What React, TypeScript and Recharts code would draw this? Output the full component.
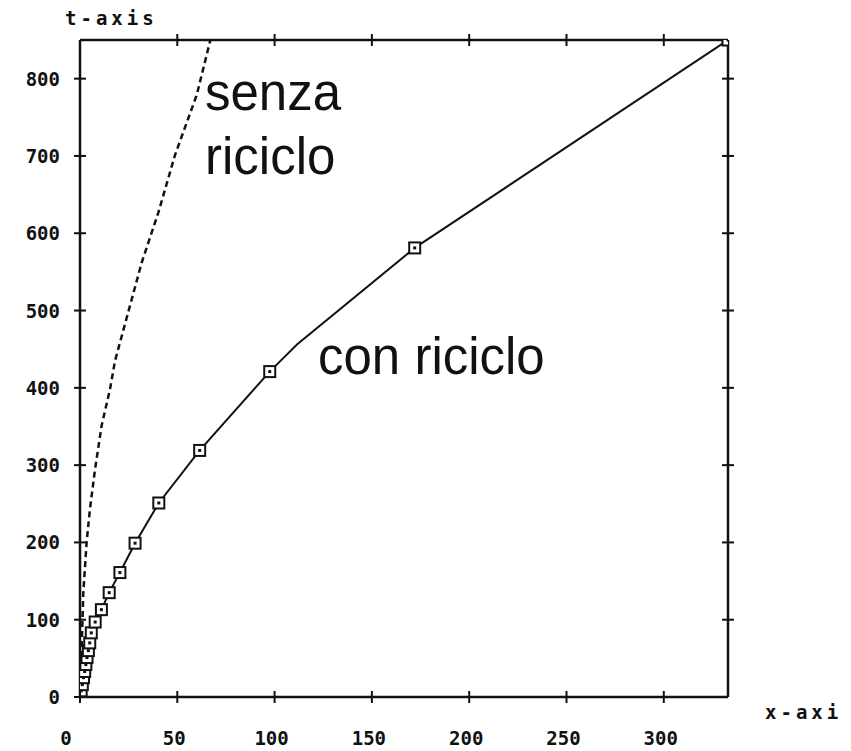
import { LineChart, Line, XAxis, YAxis } from 'recharts'

// con riciclo (solid line, square markers)
const conX = [0, 0.6, 1.2, 1.8, 2.4, 3.0, 3.6, 4.3, 5.0, 5.8, 7.8, 11.0, 15.0, 20.5, 28.3, 40.5, 61.5, 97.5, 111.5, 172.0, 333.0]
const conT = [0, 8, 16, 25, 33, 42, 51, 60, 70, 83, 97, 113, 135, 161, 199, 251, 319, 421, 456, 581, 850]
const conMarked = [1, 1, 1, 1, 1, 1, 1, 1, 1, 1, 1, 1, 1, 1, 1, 1, 1, 1, 0, 1, 1]

// senza riciclo (dashed line)
const senzaX = [0, 0.8, 1.7, 3.4, 5.1, 7.7, 11.1, 15.4, 18.0, 24.8, 31.7, 40.3, 48.8, 60.0, 67.0]
const senzaT = [0, 60, 135, 200, 243, 294, 351, 398, 435, 498, 562, 627, 701, 779, 850]

const xTicks = [0, 50, 100, 150, 200, 250, 300]
const tTicks = [0, 100, 200, 300, 400, 500, 600, 700, 800]
const xMax = 333
const tMax = 850

const conData = conX.map((x, i) => ({ x, t: conT[i], mark: conMarked[i] }))
const senzaData = senzaX.map((x, i) => ({ x, t: senzaT[i] }))

const INK = '#111'
const tickFont = { fontFamily: '"DejaVu Sans Mono", monospace', fontWeight: 700, fontSize: 19, fill: INK }

const BottomTick = (props: any) => {
  const { x, y, payload } = props
  const dx = payload.value === 0 ? -14 : -3
  return (
    <g>
      <line x1={x} x2={x} y1={y - 6} y2={y + 6} stroke={INK} strokeWidth={2} />
      <text x={x + dx} y={y + 41} textAnchor="middle" dominantBaseline="central" {...tickFont}>
        {payload.value}
      </text>
    </g>
  )
}

const LeftTick = (props: any) => {
  const { x, y, payload } = props
  return (
    <g>
      <line x1={x - 6} x2={x + 6} y1={y} y2={y} stroke={INK} strokeWidth={2} />
      <text x={x - 20} y={y} textAnchor="end" dominantBaseline="central" {...tickFont}>
        {payload.value}
      </text>
    </g>
  )
}

const TopTick = (props: any) => {
  const { x, y } = props
  return <line x1={x} x2={x} y1={y - 6} y2={y + 6} stroke={INK} strokeWidth={2} />
}

const RightTick = (props: any) => {
  const { x, y } = props
  return <line x1={x - 6} x2={x + 6} y1={y} y2={y} stroke={INK} strokeWidth={2} />
}

const SquareDot = (props: any) => {
  const { cx, cy, payload, index } = props
  if (!payload.mark) return <g key={`d-${index}`} />
  return (
    <g key={`d-${index}`}>
      <rect x={cx - 5.5} y={cy - 5.5} width={11} height={11} fill="#fff" stroke={INK} strokeWidth={2} />
      <rect x={cx - 1.5} y={cy - 1.5} width={3} height={3} fill={INK} />
    </g>
  )
}

export default function App() {
  const axisLine = { stroke: INK, strokeWidth: 2.5 }
  return (
    <div style={{ position: 'relative', width: 843, height: 743 }}>
      <LineChart width={843} height={743} margin={{ top: 31, right: 122, bottom: 4, left: 12 }}>
        <XAxis
          type="number"
          dataKey="x"
          domain={[0, xMax]}
          ticks={xTicks}
          allowDataOverflow
          height={50}
          tickSize={0}
          tickMargin={0}
          tickLine={false}
          axisLine={axisLine}
          tick={<BottomTick />}
        />
        <XAxis
          xAxisId="top"
          orientation="top"
          type="number"
          dataKey="x"
          domain={[0, xMax]}
          ticks={xTicks.slice(1)}
          allowDataOverflow
          height={1}
          tickSize={0}
          tickMargin={0}
          tickLine={false}
          axisLine={axisLine}
          tick={<TopTick />}
        />
        <YAxis
          type="number"
          dataKey="t"
          domain={[0, tMax]}
          ticks={tTicks}
          allowDataOverflow
          width={60}
          tickSize={0}
          tickMargin={0}
          tickLine={false}
          axisLine={axisLine}
          tick={<LeftTick />}
        />
        <YAxis
          yAxisId="right"
          orientation="right"
          type="number"
          dataKey="t"
          domain={[0, tMax]}
          ticks={tTicks.slice(1)}
          allowDataOverflow
          width={1}
          tickSize={0}
          tickMargin={0}
          tickLine={false}
          axisLine={axisLine}
          tick={<RightTick />}
        />
        {/* invisible copy so the frame axes (top / right) get drawn */}
        <Line
          data={senzaData}
          xAxisId="top"
          yAxisId="right"
          dataKey="t"
          stroke="none"
          dot={false}
          activeDot={false}
          isAnimationActive={false}
        />
        <Line
          data={senzaData}
          dataKey="t"
          type="linear"
          stroke={INK}
          strokeWidth={2.5}
          strokeDasharray="6 4"
          dot={false}
          isAnimationActive={false}
        />
        <Line
          data={conData}
          dataKey="t"
          type="linear"
          stroke={INK}
          strokeWidth={2}
          dot={SquareDot}
          isAnimationActive={false}
        />
      </LineChart>
      <svg
        width={843}
        height={743}
        style={{ position: 'absolute', left: 0, top: 0, pointerEvents: 'none' }}
      >
        <g {...tickFont} fontSize={19} letterSpacing={4}>
          <text x={57} y={17}>t-axis</text>
          <text x={757} y={711}>x-axi</text>
        </g>
        <g fontFamily='"Liberation Sans", Arial, sans-serif' fontSize={51} fill={INK}>
          <text x={197} y={102}>senza</text>
          <text x={197} y={166}>riciclo</text>
          <text x={310} y={366}>con riciclo</text>
        </g>
      </svg>
    </div>
  )
}
